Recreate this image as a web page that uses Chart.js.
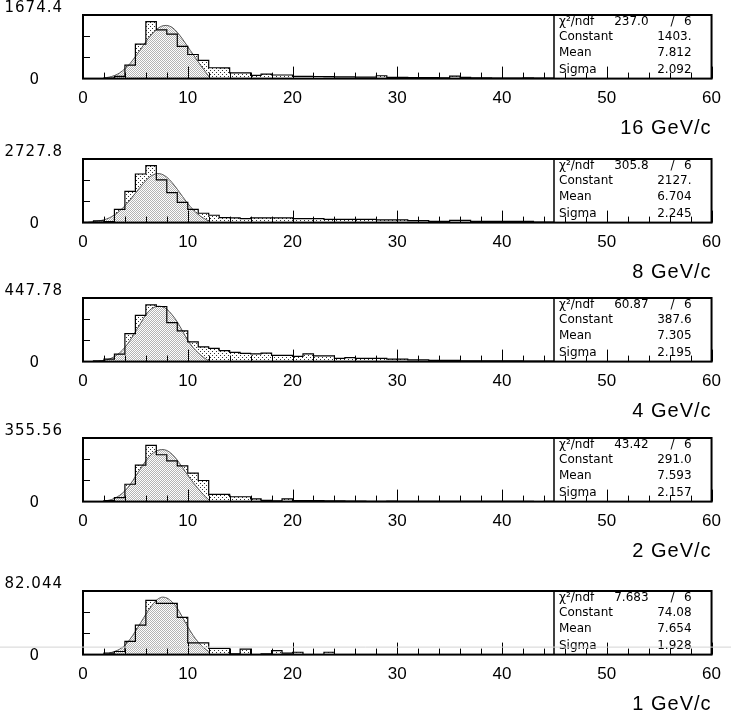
<!DOCTYPE html>
<html>
<head>
<meta charset="utf-8">
<script src="https://cdn.jsdelivr.net/npm/chart.js@4.4.0/dist/chart.umd.min.js"></script>
<style>
  html, body { margin: 0; padding: 0; background: #fff; overflow: hidden; }
  #page { position: relative; width: 731px; height: 715px; }
  .panel { position: absolute; left: 0; width: 731px; height: 140px; }
</style>
</head>
<body>
<div id="page"></div>
<script>
// bin lower edges, 1 GeV wide, 0..59
const binLow = Array.from({ length: 60 }, (_, i) => i);
const xTickLabels = [0, 10, 20, 30, 40, 50, 60];

// histogram contents
const counts16 = [0, 0, 10, 60, 355, 910, 1500, 1285, 1170, 850,
    635, 480, 285, 280, 150, 150, 85, 120, 95, 95,
    60, 60, 55, 50, 45, 45, 40, 40, 75, 30,
    30, 25, 25, 25, 20, 65, 30, 20, 20, 15,
    15, 10, 20, 10, 10, 8, 8, 6, 6, 5,
    5, 5, 4, 4, 3, 3, 3, 2, 2, 2];
const counts8 = [15, 70, 40, 570, 1340, 2085, 2440, 1830, 1285, 870,
    570, 400, 315, 215, 200, 170, 200, 200, 200, 200,
    170, 170, 170, 140, 140, 140, 140, 140, 115, 115,
    115, 85, 85, 55, 55, 95, 95, 50, 50, 50,
    50, 50, 50, 20, 20, 15, 15, 12, 10, 10,
    8, 8, 6, 6, 5, 5, 4, 4, 3, 3];
const counts4 = [0, 5, 18, 53, 197, 325, 400, 388, 274, 216,
    139, 104, 93, 77, 65, 58, 55, 60, 44, 44,
    37, 55, 40, 40, 23, 28, 23, 23, 23, 18,
    18, 12, 12, 8, 8, 8, 6, 6, 6, 5,
    5, 5, 4, 4, 4, 3, 3, 3, 2, 2,
    2, 2, 2, 1, 1, 1, 1, 1, 1, 1];
const counts2 = [0, 0, 5, 22, 97, 204, 314, 262, 228, 200,
    159, 118, 40, 40, 27, 27, 15, 7, 4, 15,
    5, 5, 6, 4, 4, 3, 3, 2, 2, 3,
    2, 2, 2, 1, 1, 2, 1, 1, 1, 1,
    1, 1, 1, 0, 1, 0, 1, 0, 0, 1,
    0, 0, 1, 0, 0, 0, 0, 0, 0, 0];
const counts1 = [0, 0, 2, 4, 17, 38, 70, 66, 66, 48,
    15, 15, 8, 8, 1, 7, 0, 1, 5, 2,
    3, 0, 0, 3, 0, 0, 0, 0, 0, 0,
    0, 0, 0, 0, 0, 0, 0, 0, 0, 0,
    0, 0, 0, 0, 0, 0, 0, 0, 0, 0,
    0, 0, 0, 0, 0, 0, 0, 0, 0, 0];

// gaussian fit curves
const fitX16 = [2, 2.5, 3, 3.5, 4, 4.5, 5, 5.5, 6, 6.5, 7, 7.5, 8, 8.5, 9, 9.5, 10, 10.5, 11, 11.5, 12];
const fitY16 = [15, 40, 80, 150, 260, 400, 580, 770, 970, 1150, 1290, 1380, 1400, 1350, 1220, 1040, 840, 640, 440, 250, 60];
const fitX8 = [0.5, 1, 1.5, 2, 2.5, 3, 3.5, 4, 4.5, 5, 5.5, 6, 6.5, 7, 7.5, 8, 8.5, 9, 9.5, 10, 10.5, 11, 11.5, 12];
const fitY8 = [15, 35, 70, 120, 200, 330, 500, 720, 980, 1260, 1540, 1800, 2000, 2100, 2080, 1950, 1720, 1430, 1120, 820, 560, 350, 190, 70];
const fitX4 = [1.5, 2, 2.5, 3, 3.5, 4, 4.5, 5, 5.5, 6, 6.5, 7, 7.5, 8, 8.5, 9, 9.5, 10, 10.5, 11, 11.5, 12];
const fitY4 = [3, 8, 18, 35, 62, 100, 150, 210, 270, 330, 370, 388, 388, 370, 330, 280, 215, 150, 100, 62, 30, 5];
const fitX2 = [2, 2.5, 3, 3.5, 4, 4.5, 5, 5.5, 6, 6.5, 7, 7.5, 8, 8.5, 9, 9.5, 10, 10.5, 11, 11.5, 12];
const fitY2 = [3, 8, 18, 35, 60, 95, 140, 185, 228, 262, 283, 291, 286, 265, 232, 190, 148, 108, 72, 38, 10];
const fitX1 = [2.5, 3, 3.5, 4, 4.5, 5, 5.5, 6, 6.5, 7, 7.5, 8, 8.5, 9, 9.5, 10, 10.5, 11, 11.5, 12];
const fitY1 = [2, 4, 7, 12, 20, 30, 41, 52, 62, 70, 74, 73, 68, 60, 48, 36, 25, 16, 9, 4];

const momenta = ['16 GeV/c', '8 GeV/c', '4 GeV/c', '2 GeV/c', '1 GeV/c'];
const yMaxValues = [1674.4, 2727.8, 447.78, 355.56, 82.044];
const yMaxLabels = ['1674.4', '2727.8', '447.78', '355.56', '82.044'];
const chi2 = ['237.0', '305.8', '60.87', '43.42', '7.683'];
const ndf = ['6', '6', '6', '6', '6'];
const constants = ['1403.', '2127.', '387.6', '291.0', '74.08'];
const means = ['7.812', '6.704', '7.305', '7.593', '7.654'];
const sigmas = ['2.092', '2.245', '2.195', '2.157', '1.928'];

const allCounts = [counts16, counts8, counts4, counts2, counts1];
const allFitX = [fitX16, fitX8, fitX4, fitX2, fitX1];
const allFitY = [fitY16, fitY8, fitY4, fitY2, fitY1];

const panelTops = [0, 144, 283, 423, 576];

function makePattern(size, dots, color) {
    const tile = document.createElement('canvas');
    tile.width = size[0];
    tile.height = size[1];
    const tctx = tile.getContext('2d');
    tctx.fillStyle = color;
    dots.forEach(d => tctx.fillRect(d[0], d[1], 1, 1));
    return tctx.createPattern(tile, 'repeat');
}

const histPattern = makePattern([4, 4], [[0, 0], [2, 2]], '#333');
const fitPattern = makePattern([2, 2], [[0, 0], [1, 1]], '#b4b4b4');

function pawPlugin(i) {
    return {
        id: 'paw',
        afterDraw(chart) {
            const ctx = chart.ctx;
            const area = chart.chartArea;
            const xs = chart.scales.x;
            const ys = chart.scales.y;
            ctx.save();

            // statistics box
            const boxLeft = area.left + 471;
            ctx.fillStyle = '#fff';
            ctx.fillRect(boxLeft, area.top, area.right - boxLeft, area.bottom - area.top);
            ctx.strokeStyle = '#000';
            ctx.lineWidth = 1.5;
            ctx.beginPath();
            ctx.moveTo(boxLeft, area.top);
            ctx.lineTo(boxLeft, area.bottom);
            ctx.stroke();

            ctx.fillStyle = '#000';
            ctx.font = '12px "DejaVu Sans"';
            ctx.textBaseline = 'middle';
            const rows = [area.top + 7, area.top + 22, area.top + 38, area.top + 55];
            ctx.textAlign = 'left';
            ctx.fillText('\u03c7\u00b2/ndf', boxLeft + 5, rows[0]);
            ctx.fillText('Constant', boxLeft + 5, rows[1]);
            ctx.fillText('Mean', boxLeft + 5, rows[2]);
            ctx.fillText('Sigma', boxLeft + 5, rows[3]);
            ctx.textAlign = 'right';
            ctx.fillText(chi2[i], area.right - 63, rows[0]);
            ctx.fillText('/', area.right - 37, rows[0]);
            ctx.fillText(ndf[i], area.right - 20, rows[0]);
            ctx.fillText(constants[i], area.right - 20, rows[1]);
            ctx.fillText(means[i], area.right - 20, rows[2]);
            ctx.fillText(sigmas[i], area.right - 20, rows[3]);

            // inward tick marks
            ctx.lineWidth = 1;
            ctx.beginPath();
            for (let v = 0; v <= 60; v += 2) {
                const px = Math.round(xs.getPixelForValue(v)) + 0.5;
                const len = v % 10 === 0 ? 12 : 6;
                ctx.moveTo(px, area.bottom);
                ctx.lineTo(px, area.bottom - len);
            }
            [1, 2].forEach(k => {
                const py = Math.round(ys.getPixelForValue(yMaxValues[i] * k / 3)) + 0.5;
                ctx.moveTo(area.left, py);
                ctx.lineTo(area.left + 7, py);
            });
            ctx.stroke();

            // frame
            ctx.lineWidth = 2;
            ctx.strokeRect(area.left, area.top, area.right - area.left, area.bottom - area.top);

            // faint scan line crossing the last panel
            if (i === 4) {
                ctx.strokeStyle = '#d4d4d4';
                ctx.lineWidth = 1;
                ctx.beginPath();
                ctx.moveTo(0, area.bottom - 7.5);
                ctx.lineTo(chart.width, area.bottom - 7.5);
                ctx.stroke();
            }

            // y range labels
            ctx.font = '15px "DejaVu Sans"';
            ctx.letterSpacing = '1px';
            ctx.textAlign = 'right';
            ctx.fillText(yMaxLabels[i], area.left - 20, area.top - 7);
            ctx.fillText('0', area.left - 43, area.bottom + 2);

            // beam momentum
            ctx.font = '20px "Liberation Sans"';
            ctx.fillText(momenta[i], area.right, area.bottom + 50);
            ctx.restore();
        }
    };
}

function buildPanel(i) {
    const holder = document.createElement('div');
    holder.className = 'panel';
    holder.style.top = panelTops[i] + 'px';
    const canvas = document.createElement('canvas');
    canvas.width = 731;
    canvas.height = 140;
    holder.appendChild(canvas);
    document.getElementById('page').appendChild(holder);

    const counts = allCounts[i];
    const histData = binLow.map((x, j) => ({ x: x, y: counts[j] }));
    histData.push({ x: 60, y: counts[counts.length - 1] });
    const fitData = allFitX[i].map((x, j) => ({ x: x, y: allFitY[i][j] }));

    new Chart(canvas.getContext('2d'), {
        type: 'line',
        data: {
            datasets: [
                {
                    // histogram outline on top
                    data: histData,
                    stepped: 'before',
                    fill: false,
                    borderColor: '#000',
                    borderWidth: 1.2,
                    pointRadius: 0,
                    order: 1
                },
                {
                    data: fitData,
                    fill: 'origin',
                    backgroundColor: fitPattern,
                    borderColor: '#555',
                    borderWidth: 1,
                    pointRadius: 0,
                    tension: 0.3,
                    order: 2
                },
                {
                    data: histData,
                    stepped: 'before',
                    fill: 'origin',
                    backgroundColor: histPattern,
                    borderWidth: 0,
                    pointRadius: 0,
                    order: 3
                }
            ]
        },
        options: {
            responsive: false,
            animation: false,
            devicePixelRatio: 1,
            layout: { padding: { left: 83, right: 14, top: 15, bottom: 21 } },
            plugins: {
                legend: { display: false },
                tooltip: { enabled: false }
            },
            scales: {
                x: {
                    type: 'linear',
                    min: 0,
                    max: 60,
                    grid: { display: false, drawTicks: false },
                    border: { display: false },
                    afterBuildTicks: scale => {
                        scale.ticks = xTickLabels.map(v => ({ value: v }));
                    },
                    ticks: {
                        color: '#000',
                        padding: 10,
                        maxRotation: 0,
                        autoSkip: false,
                        font: { family: 'Liberation Sans', size: 17 }
                    }
                },
                y: {
                    type: 'linear',
                    min: 0,
                    max: yMaxValues[i],
                    display: false
                }
            }
        },
        plugins: [pawPlugin(i)]
    });
}

for (let i = 0; i < 5; i++) {
    buildPanel(i);
}
</script>
</body>
</html>
